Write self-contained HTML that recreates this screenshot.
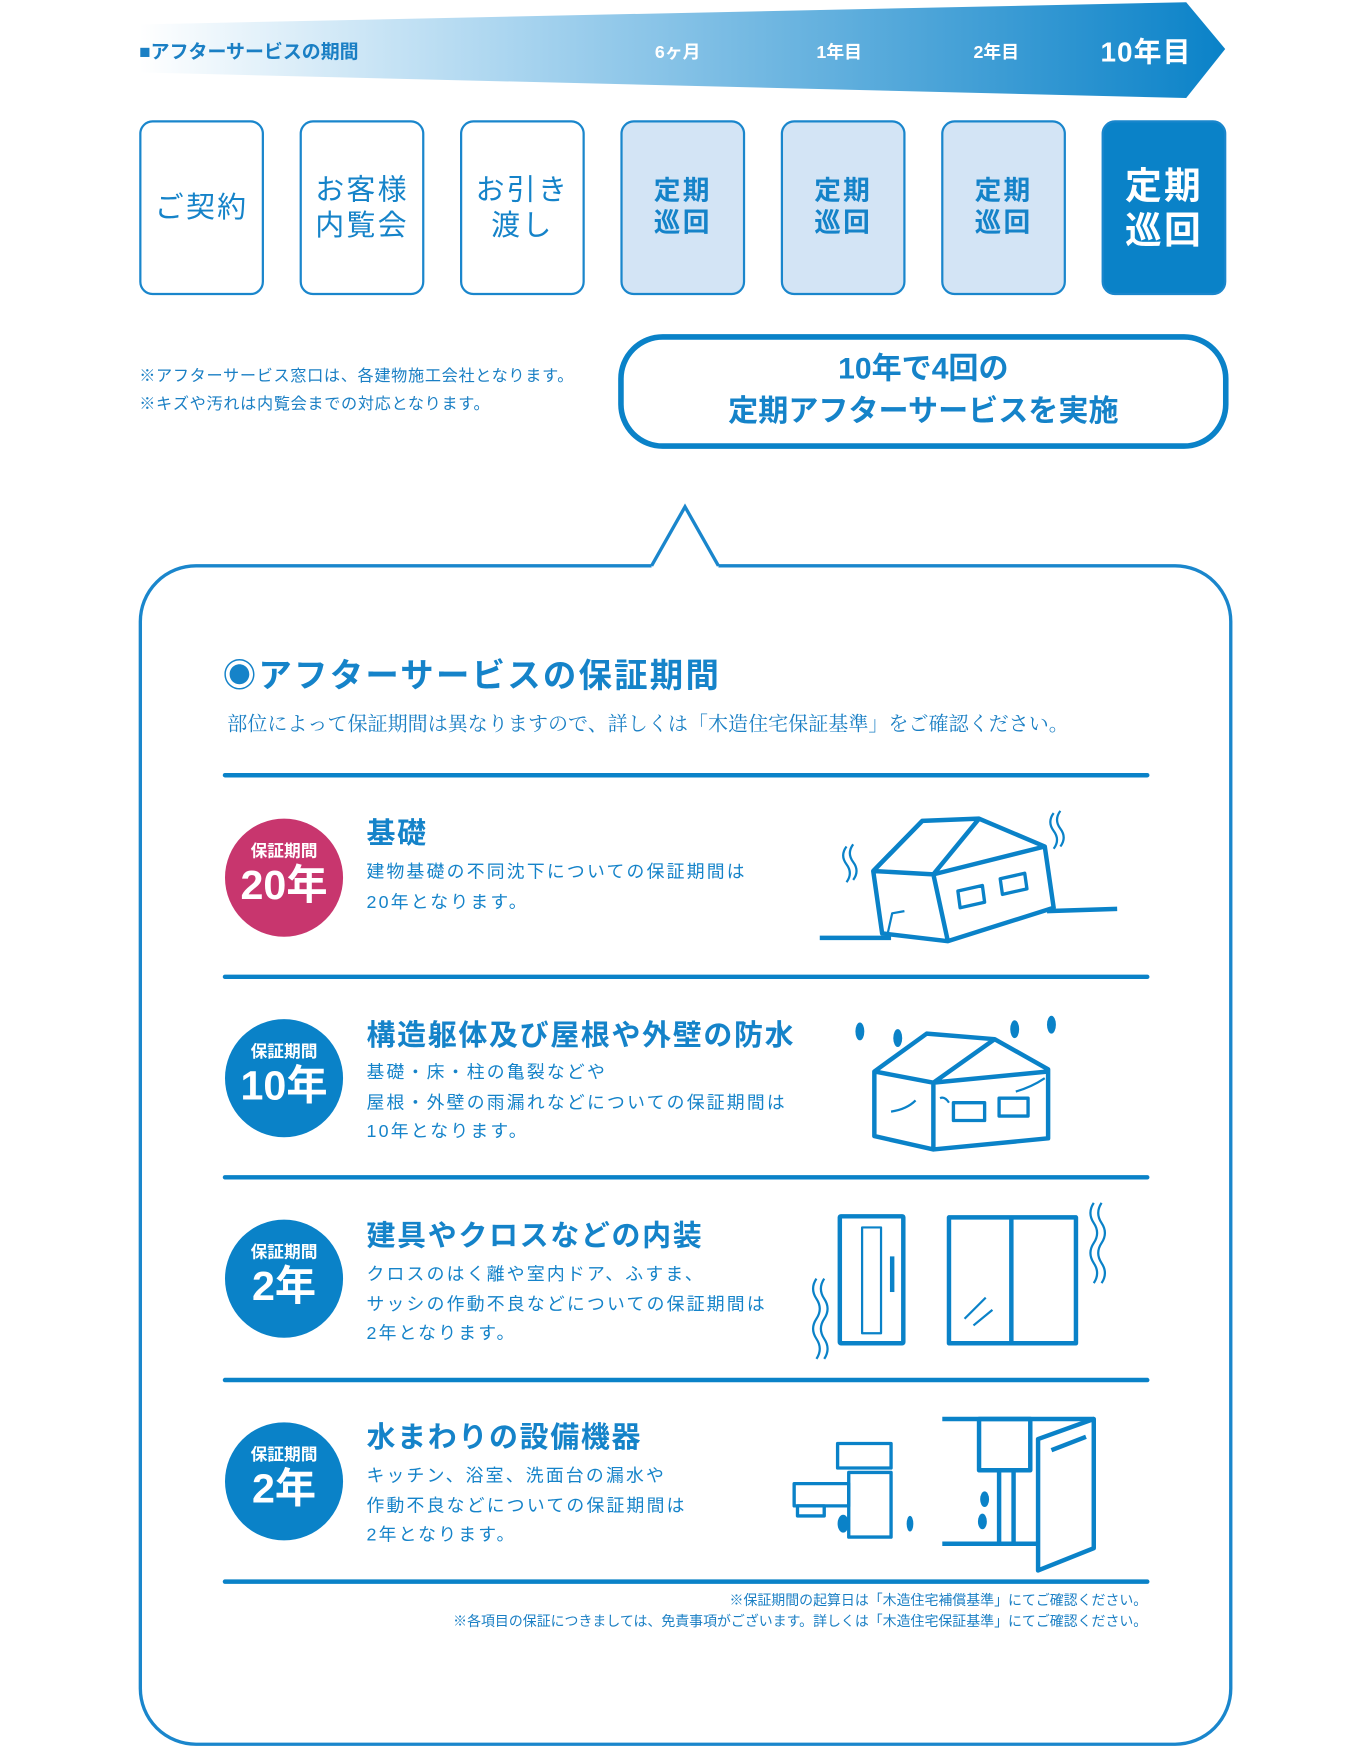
<!DOCTYPE html>
<html><head><meta charset="utf-8"><style>
html,body{margin:0;padding:0;background:#fff;width:1370px;height:1746px;overflow:hidden}
#c{position:absolute;left:0;top:0;width:1230px;height:1568px;transform:scale(1.11382);transform-origin:0 0;font-family:"Liberation Sans","Noto Sans CJK JP",sans-serif;color:#1583c9}
.a{position:absolute;white-space:nowrap}
.box{position:absolute;top:108px;width:108px;height:153px;border:2px solid #1a86cc;border-radius:12px;display:flex;align-items:center;justify-content:center;text-align:center;line-height:1.2;letter-spacing:2px}
.w{background:#fff;font-size:26px;color:#1583c9}
.l{background:#d3e4f5;font-size:24px;font-weight:bold;color:#1583c9}
.d{background:#0a82c8;font-size:33px;font-weight:bold;color:#fff}
.circ{position:absolute;width:106px;height:106px;border-radius:50%;background:#0a82c8;color:#fff;text-align:center;font-weight:bold}
.circ .s{font-size:15px;margin-top:22px;line-height:16px}
.circ .b{font-size:37px;line-height:44px}
.t{position:absolute;left:329px;font-size:26px;font-weight:bold;letter-spacing:1.5px}
.ds{position:absolute;left:329px;font-size:16px;line-height:26.5px;letter-spacing:2px;color:#1583c9}
</style></head><body><div id="c">
<svg width="1230" height="1568" style="position:absolute;left:0;top:0" viewBox="0 0 1230 1568">
<defs><linearGradient id="g" x1="0" x2="1"><stop offset="0" stop-color="#fff"/><stop offset="0.35" stop-color="#a8d4ef"/><stop offset="1" stop-color="#0a82c8"/></linearGradient></defs>
<polygon points="125,22 1065,2 1100,44 1065,88 125,65" fill="url(#g)"/>
<path d="M585,508 L615,455 L645,508" fill="#fff" stroke="#1a86cc" stroke-width="3"/>
<path d="M585,508 H176 a50,50 0 0 0 -50,50 V1516 a50,50 0 0 0 50,50 H1055 a50,50 0 0 0 50,-50 V558 a50,50 0 0 0 -50,-50 H645" fill="none" stroke="#1a86cc" stroke-width="3"/>
<g stroke="#0a82c8" stroke-width="4" stroke-linecap="round">
<line x1="202" y1="696" x2="1030" y2="696"/><line x1="202" y1="877" x2="1030" y2="877"/><line x1="202" y1="1057" x2="1030" y2="1057"/><line x1="202" y1="1239" x2="1030" y2="1239"/><line x1="202" y1="1420" x2="1030" y2="1420"/>
</g>
<g fill="none" stroke="#0a82c8" stroke-width="4" stroke-linejoin="round">
<line x1="736" y1="842" x2="800" y2="842"/><line x1="940" y1="818" x2="1003" y2="816"/>
<path d="M828,737 L879,735 L938,760 L946,815 L851,845 L792,838 L784,782 Z M784,782 L838,785 L938,760 M879,735 L838,785 L851,845"/>
<path d="M828,737 L784,782"/>
<polygon points="860,800 882,795 884,810 862,815" stroke-width="3"/><polygon points="898,789 920,784 922,798 900,803" stroke-width="3"/>
<path d="M797,838 L801,820 L812,818" stroke-width="2"/>
<path d="M760,760 q-6,8 0,16 q6,8 0,16 M766,758 q-6,8 0,16 q6,8 0,16 M946,730 q-6,8 0,16 q6,8 0,16 M952,728 q-6,8 0,16 q6,8 0,16" stroke-width="2"/>
<path d="M832,928 L893,933 L941,960 L941,1022 L838,1032 L785,1020 L785,962 Z M785,962 L838,972 L941,962 M893,933 L838,972 L838,1032"/>
<rect x="856" y="990" width="28" height="16" stroke-width="3"/><rect x="897" y="986" width="26" height="16" stroke-width="3"/>
<path d="M800,998 q14,-2 22,-10 M912,980 q14,-4 26,-12 M852,990 q-4,-6 -8,-4" stroke-width="2"/>
<rect x="754" y="1092" width="57" height="114" rx="1"/><rect x="774" y="1102" width="17" height="95" stroke-width="2"/><line x1="801" y1="1128" x2="801" y2="1160"/>
<rect x="852" y="1093" width="114" height="113"/><line x1="908" y1="1093" x2="908" y2="1206"/>
<path d="M866,1184 L885,1165 M874,1190 L891,1176" stroke-width="2"/>
<path d="M733,1148 q-6,9 0,18 q6,9 0,18 q-6,9 0,18 q6,9 0,18 M740,1148 q-6,9 0,18 q6,9 0,18 q-6,9 0,18 q6,9 0,18 M982,1080 q-6,9 0,18 q6,9 0,18 q-6,9 0,18 q6,9 0,18 M989,1080 q-6,9 0,18 q6,9 0,18 q-6,9 0,18 q6,9 0,18" stroke-width="2"/>
<rect x="752" y="1296" width="48" height="22" stroke-width="3"/><rect x="762" y="1322" width="38" height="58" stroke-width="3"/><rect x="713" y="1332" width="49" height="20" stroke-width="3"/><rect x="716" y="1352" width="24" height="9" stroke-width="3"/>
<line x1="846" y1="1274" x2="982" y2="1274"/><rect x="879" y="1274" width="46" height="46"/><line x1="897" y1="1320" x2="897" y2="1386"/><line x1="910" y1="1320" x2="910" y2="1386"/><line x1="846" y1="1386" x2="932" y2="1386"/>
<polygon points="932,1292 982,1274 982,1390 932,1410" fill="#fff"/><line x1="944" y1="1302" x2="975" y2="1290"/>
</g>
<g fill="#0a82c8">
<ellipse cx="772" cy="926" rx="4" ry="8"/><ellipse cx="806" cy="932" rx="4" ry="8"/><ellipse cx="911" cy="924" rx="4" ry="8"/><ellipse cx="944" cy="920" rx="4" ry="8"/>
<ellipse cx="757" cy="1368" rx="5" ry="8"/><ellipse cx="817" cy="1368" rx="3" ry="7"/><ellipse cx="884" cy="1346" rx="4" ry="7"/><ellipse cx="882" cy="1366" rx="4" ry="7"/>
</g>
</svg>
<div class="a" style="left:125px;top:32px;font-size:17px;font-weight:bold;color:#1a7fc4">■アフターサービスの期間</div>
<div class="a" style="left:588px;top:33px;font-size:16px;font-weight:bold;color:#fff">6ヶ月</div>
<div class="a" style="left:733px;top:33px;font-size:16px;font-weight:bold;color:#fff">1年目</div>
<div class="a" style="left:874px;top:33px;font-size:16px;font-weight:bold;color:#fff">2年目</div>
<div class="a" style="left:988px;top:27px;font-size:25px;font-weight:bold;color:#fff;letter-spacing:1px">10年目</div>
<div class="box w" style="left:125px">ご契約</div>
<div class="box w" style="left:269px">お客様<br>内覧会</div>
<div class="box w" style="left:413px">お引き<br>渡し</div>
<div class="box l" style="left:557px">定期<br>巡回</div>
<div class="box l" style="left:701px">定期<br>巡回</div>
<div class="box l" style="left:845px">定期<br>巡回</div>
<div class="box d" style="left:989px">定期<br>巡回</div>
<div class="a" style="left:125px;top:326px;font-size:14.5px;line-height:25px;letter-spacing:0.6px;color:#1a7fc4">※アフターサービス窓口は、各建物施工会社となります。<br>※キズや汚れは内覧会までの対応となります。</div>
<div class="a" style="left:555px;top:300px;width:538px;height:86px;border:5px solid #0a82c8;border-radius:40px;text-align:center;font-size:27px;font-weight:bold;line-height:38px;padding-top:7px;box-sizing:content-box">10年で4回の<br>定期アフターサービスを実施</div>
<div class="a" style="left:200px;top:582px;font-size:30px;font-weight:bold;letter-spacing:2px">◉アフターサービスの保証期間</div>
<div class="a" style="left:204px;top:636px;font-size:18px;font-family:'Liberation Serif','Noto Serif CJK SC',serif;color:#1a7fc4">部位によって保証期間は異なりますので、詳しくは「木造住宅保証基準」をご確認ください。</div>
<div class="circ" style="left:202px;top:735px;background:#c8366e"><div class="s">保証期間</div><div class="b">20年</div></div>
<div class="circ" style="left:202px;top:915px"><div class="s">保証期間</div><div class="b">10年</div></div>
<div class="circ" style="left:202px;top:1095px"><div class="s">保証期間</div><div class="b">2年</div></div>
<div class="circ" style="left:202px;top:1277px"><div class="s">保証期間</div><div class="b">2年</div></div>
<div class="t" style="top:728px">基礎</div>
<div class="ds" style="top:771px">建物基礎の不同沈下についての保証期間は<br>20年となります。</div>
<div class="t" style="top:909px">構造躯体及び屋根や外壁の防水</div>
<div class="ds" style="top:951px">基礎・床・柱の亀裂などや<br>屋根・外壁の雨漏れなどについての保証期間は<br>10年となります。</div>
<div class="t" style="top:1089px">建具やクロスなどの内装</div>
<div class="ds" style="top:1132px">クロスのはく離や室内ドア、ふすま、<br>サッシの作動不良などについての保証期間は<br>2年となります。</div>
<div class="t" style="top:1270px">水まわりの設備機器</div>
<div class="ds" style="top:1313px">キッチン、浴室、洗面台の漏水や<br>作動不良などについての保証期間は<br>2年となります。</div>
<div class="a" style="right:200px;top:1428px;font-size:12.5px;line-height:19px;text-align:right;color:#1a7fc4">※保証期間の起算日は「木造住宅補償基準」にてご確認ください。<br>※各項目の保証につきましては、免責事項がございます。詳しくは「木造住宅保証基準」にてご確認ください。</div>
</div></body></html>
